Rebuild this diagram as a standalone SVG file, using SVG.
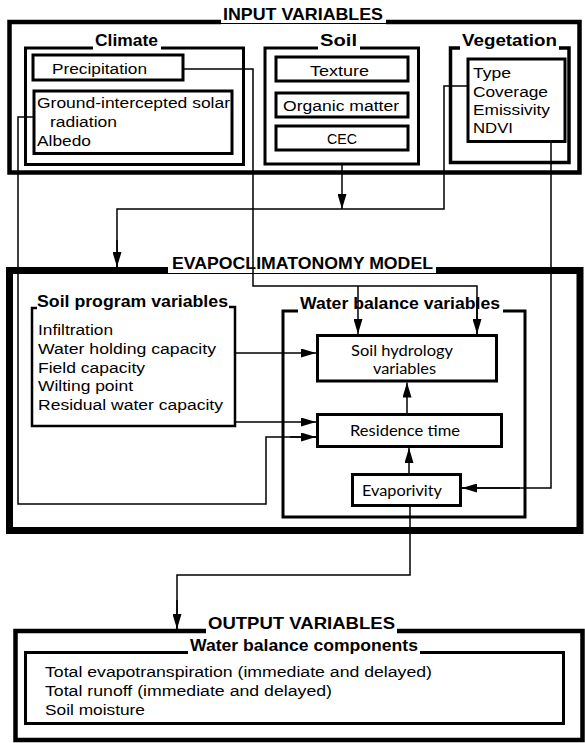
<svg xmlns="http://www.w3.org/2000/svg" width="585" height="743" viewBox="0 0 585 743">
<style>
.t{font-family:"Liberation Sans",Arial,Helvetica,sans-serif;font-size:15.5px;fill:#000}
.b{font-family:"Liberation Sans",Arial,Helvetica,sans-serif;font-size:16.5px;font-weight:bold;fill:#000}
.h{font-family:Lato,"Open Sans",sans-serif;font-size:15.5px;fill:#000}
.box{fill:none;stroke:#000;stroke-width:3}
.big{fill:none;stroke:#000;stroke-width:4.5}
.thin{fill:none;stroke:#000;stroke-width:1}
.c{fill:none;stroke:#000;stroke-width:1.5}
.a{marker-end:url(#ah)}
</style>
<defs>
<marker id="ah" markerUnits="userSpaceOnUse" markerWidth="16" markerHeight="9" refX="15" refY="4.5" orient="auto">
<path d="M0,0 L15,4.5 L0,9 Z" fill="#000"/>
</marker>
</defs>
<rect width="585" height="743" fill="#fff"/>

<g id="input-variables">
<path class="big" d="M221,22 H9.5 V172.5 H579.5 V22 H386"/>
<path class="thin" d="M221,23.5 H386"/>
<text class="b" x="223" y="19.5" textLength="160" lengthAdjust="spacingAndGlyphs">INPUT VARIABLES</text>
</g>

<g id="climate">
<path class="box" d="M93,48 H25.5 V164.5 H243.5 V48 H161"/>
<text class="b" x="95" y="46" textLength="63" lengthAdjust="spacingAndGlyphs">Climate</text>
</g>
<g id="precipitation">
<rect class="box" x="33" y="55" width="150" height="25"/>
<text class="t" x="52" y="73.5" textLength="95" lengthAdjust="spacingAndGlyphs">Precipitation</text>
</g>
<g id="solar-radiation">
<rect class="box" x="34" y="91" width="198" height="62.5"/>
<text class="t" x="37" y="107.5" textLength="193" lengthAdjust="spacingAndGlyphs">Ground-intercepted solar</text>
<text class="t" x="50" y="127" textLength="67" lengthAdjust="spacingAndGlyphs">radiation</text>
<text class="t" x="37" y="146" textLength="54" lengthAdjust="spacingAndGlyphs">Albedo</text>
</g>

<g id="soil">
<path class="box" d="M318,48 H265 V164 H418.5 V48 H360"/>
<text class="b" x="320" y="46" textLength="37" lengthAdjust="spacingAndGlyphs">Soil</text>
</g>
<g id="texture">
<rect class="box" x="276" y="57" width="132" height="24"/>
<text class="t" x="310" y="75.5" textLength="59" lengthAdjust="spacingAndGlyphs">Texture</text>
</g>
<g id="organic-matter">
<rect class="box" x="276" y="93" width="132" height="24"/>
<text class="t" x="283" y="110.5" textLength="116" lengthAdjust="spacingAndGlyphs">Organic matter</text>
</g>
<g id="cec">
<rect class="box" x="276" y="126" width="132" height="24"/>
<text class="t" x="327" y="143.5" textLength="30" lengthAdjust="spacingAndGlyphs">CEC</text>
</g>

<g id="vegetation">
<path class="box" style="stroke-width:3.5" d="M460,48 H450.5 V162.5 H569 V48 H559"/>
<text class="b" x="462" y="46" textLength="95" lengthAdjust="spacingAndGlyphs">Vegetation</text>
</g>
<g id="vegetation-properties">
<rect class="box" x="468" y="59" width="97" height="82.5"/>
<text class="t" x="473" y="78" textLength="38" lengthAdjust="spacingAndGlyphs">Type</text>
<text class="t" x="473" y="96.5" textLength="75" lengthAdjust="spacingAndGlyphs">Coverage</text>
<text class="t" x="473" y="115" textLength="77" lengthAdjust="spacingAndGlyphs">Emissivity</text>
<text class="t" x="473" y="133" textLength="40" lengthAdjust="spacingAndGlyphs">NDVI</text>
</g>

<g id="evapoclimatonomy-model">
<path fill="none" stroke="#000" stroke-width="7" d="M168,270.5 H9.5 V530.5 H580 V270.5 H436"/>
<path class="thin" d="M168,273.5 H436"/>
<text class="b" x="172" y="269" textLength="261" lengthAdjust="spacingAndGlyphs">EVAPOCLIMATONOMY MODEL</text>
</g>

<g id="soil-program-variables">
<path fill="none" stroke="#000" stroke-width="2.5" d="M37,308 H32 V426 H235 V307 H229"/>
<text class="b" x="37" y="306.5" textLength="191" lengthAdjust="spacingAndGlyphs">Soil program variables</text>
<text class="t" x="38" y="335" textLength="75" lengthAdjust="spacingAndGlyphs">Infiltration</text>
<text class="t" x="38" y="354" textLength="178" lengthAdjust="spacingAndGlyphs">Water holding capacity</text>
<text class="t" x="38" y="372.5" textLength="107" lengthAdjust="spacingAndGlyphs">Field capacity</text>
<text class="t" x="38" y="391" textLength="95" lengthAdjust="spacingAndGlyphs">Wilting point</text>
<text class="t" x="38" y="410" textLength="185" lengthAdjust="spacingAndGlyphs">Residual water capacity</text>
</g>

<g id="water-balance-variables">
<path class="box" d="M298,311 H283 V517 H525 V311 H503"/>
<text class="b" x="300" y="308.5" textLength="200" lengthAdjust="spacingAndGlyphs">Water balance variables</text>
</g>
<g id="soil-hydrology-variables">
<rect class="box" x="317.5" y="335.5" width="179" height="45.5"/>
<text class="h" x="351" y="355.5" textLength="102" lengthAdjust="spacingAndGlyphs">Soil hydrology</text>
<text class="h" x="373" y="373.5" textLength="63" lengthAdjust="spacingAndGlyphs">variables</text>
</g>
<g id="residence-time">
<rect class="box" x="317.5" y="414.5" width="184" height="32"/>
<text class="h" x="350" y="435.5" textLength="110" lengthAdjust="spacingAndGlyphs">Residence time</text>
</g>
<g id="evaporivity">
<rect class="box" x="352.5" y="474.5" width="108" height="31"/>
<text class="h" x="362" y="495.5" textLength="80" lengthAdjust="spacingAndGlyphs">Evaporivity</text>
</g>

<g id="output-variables">
<path class="big" d="M206,631 H15.5 V740 H582.5 V631 H397"/>
<text class="b" x="208" y="628.5" textLength="187" lengthAdjust="spacingAndGlyphs">OUTPUT VARIABLES</text>
</g>
<g id="water-balance-components">
<path class="box" d="M188,652.5 H25.5 V723.5 H563.5 V652.5 H420"/>
<text class="b" x="190" y="651" textLength="228" lengthAdjust="spacingAndGlyphs">Water balance components</text>
<text class="t" x="45" y="677" textLength="387" lengthAdjust="spacingAndGlyphs">Total evapotranspiration (immediate and delayed)</text>
<text class="t" x="45" y="695.5" textLength="287" lengthAdjust="spacingAndGlyphs">Total runoff (immediate and delayed)</text>
<text class="t" x="45" y="715" textLength="100" lengthAdjust="spacingAndGlyphs">Soil moisture</text>
</g>

<g id="connectors">
<path class="c" d="M183,69 H253 V286 H477 V334"/>
<path class="c a" d="M477,300 V334"/>
<path class="c a" d="M358,286 V334"/>
<path class="c a" d="M342,164 V209"/>
<path class="c" d="M468,86 H444 V209 H117 V267"/>
<path class="c a" d="M117,240 V267"/>
<path class="c" d="M551,141.5 V488 H462"/>
<path class="c a" d="M520,488 H462"/>
<path class="c" d="M34,117 H18 V504 H266 V437 H316"/>
<path class="c a" d="M290,437 H316"/>
<path class="c a" d="M235,353 H316"/>
<path class="c a" d="M235,422 H316"/>
<path class="c a" d="M407,414.5 V382.5"/>
<path class="c a" d="M409,474.5 V448"/>
<path class="c" d="M410,505.5 V575 H177 V629"/>
<path class="c a" d="M177,600 V629"/>
</g>
</svg>
